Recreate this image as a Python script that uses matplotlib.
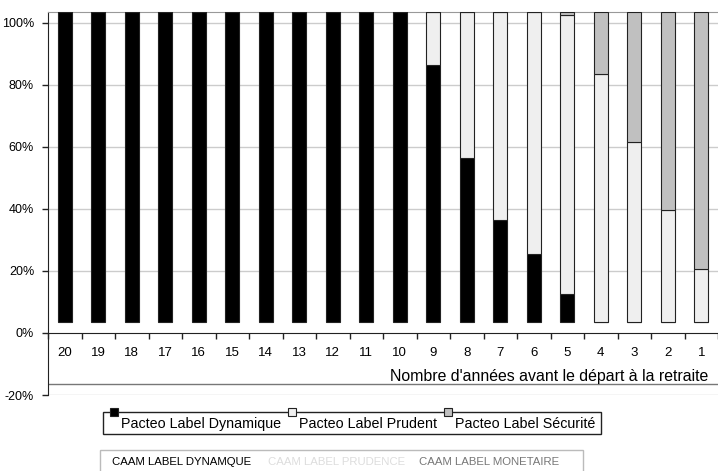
import numpy as np
import matplotlib.pyplot as plt
from matplotlib.patches import Rectangle

plt.rcParams['font.family'] = ['Liberation Sans', 'DejaVu Sans']

years = ['20', '19', '18', '17', '16', '15', '14', '13', '12', '11',
         '10', '9', '8', '7', '6', '5', '4', '3', '2', '1']
base = 3.5  # bars sit slightly above 0 in the original
dynamique = [100, 100, 100, 100, 100, 100, 100, 100, 100, 100,
             100, 83, 53, 33, 22, 9, 0, 0, 0, 0]
securite = [0, 0, 0, 0, 0, 0, 0, 0, 0, 0,
            0, 0, 0, 0, 0, 1, 20, 42, 64, 83]
prudent = [100 - d - s for d, s in zip(dynamique, securite)]

series = ['Pacteo Label Dynamique', 'Pacteo Label Prudent', 'Pacteo Label Sécurité']
colors = ['#000000', '#efefef', '#c0c0c0']

fig = plt.figure(figsize=(7.18, 4.71), dpi=100)
ax = fig.add_axes([48 / 718, 1 - 395 / 471, 1 - 48 / 718, 383 / 471])

x = np.arange(len(years))
w = 0.42
bottom = np.full(len(years), base, dtype=float)
for vals, c in zip([dynamique, prudent, securite], colors):
    vals = np.array(vals, dtype=float)
    ax.bar(x, vals, w, bottom=bottom, color=c, edgecolor='#222222', linewidth=0.8, zorder=3)
    bottom += vals

ax.set_xlim(-0.5, 19.36)
ax.set_ylim(-20, 103.5)

# gridlines
for g in [20, 40, 60, 80, 100, -20]:
    ax.axhline(g, color='#cccccc', lw=1, zorder=1)
ax.axhline(-16.5, color='#777777', lw=1, zorder=2)

# y axis
ax.set_yticks([-20, 0, 20, 40, 60, 80, 100])
ax.set_yticklabels(['-20%', '0%', '20%', '40%', '60%', '80%', '100%'], fontsize=9)
ax.tick_params(axis='y', length=4, width=1, color='#222222', pad=6)
ax.spines['left'].set_color('#222222')
ax.spines['top'].set_color('#999999')
ax.spines['right'].set_visible(False)

# x axis at 0
ax.spines['bottom'].set_position(('data', 0))
ax.spines['bottom'].set_color('#222222')
ax.set_xticks(x)
ax.set_xticklabels(years, fontsize=9.5)
ax.set_xticks(np.arange(-0.5, 20, 1), minor=True)
ax.tick_params(axis='x', which='major', length=0, pad=10)
ax.tick_params(axis='x', which='minor', length=4, width=1, color='#222222', direction='out')

fig.text(708 / 718, 1 - 376 / 471, "Nombre d'années avant le départ à la retraite",
         ha='right', va='center', fontsize=11.4)

# legend 1
fig.patches.append(Rectangle((103 / 718, 1 - 434 / 471), 498 / 718, 22 / 471,
                             transform=fig.transFigure, fill=False, ec='#222222', lw=1))
for mx, tx, lab, c in zip([114, 292, 448], [121, 299, 455], series, colors):
    fig.patches.append(Rectangle(((mx - 4) / 718, 1 - 416 / 471), 8 / 718, 8 / 471,
                                 transform=fig.transFigure, fc=c, ec='#222222', lw=0.8))
    fig.text(tx / 718, 1 - 424 / 471, lab, ha='left', va='center', fontsize=10.3)

# legend 2
fig.patches.append(Rectangle((100 / 718, 1 - 480 / 471), 483 / 718, 30 / 471,
                             transform=fig.transFigure, fill=False, ec='#bbbbbb', lw=1))
for tx, lab, c in zip([112, 268, 419],
                      ['CAAM LABEL DYNAMQUE', 'CAAM LABEL PRUDENCE', 'CAAM LABEL MONETAIRE'],
                      ['#000000', '#dddddd', '#777777']):
    fig.text(tx / 718, 1 - 462 / 471, lab, ha='left', va='center', fontsize=8.2, color=c)

fig.savefig('out.png', dpi=100)
